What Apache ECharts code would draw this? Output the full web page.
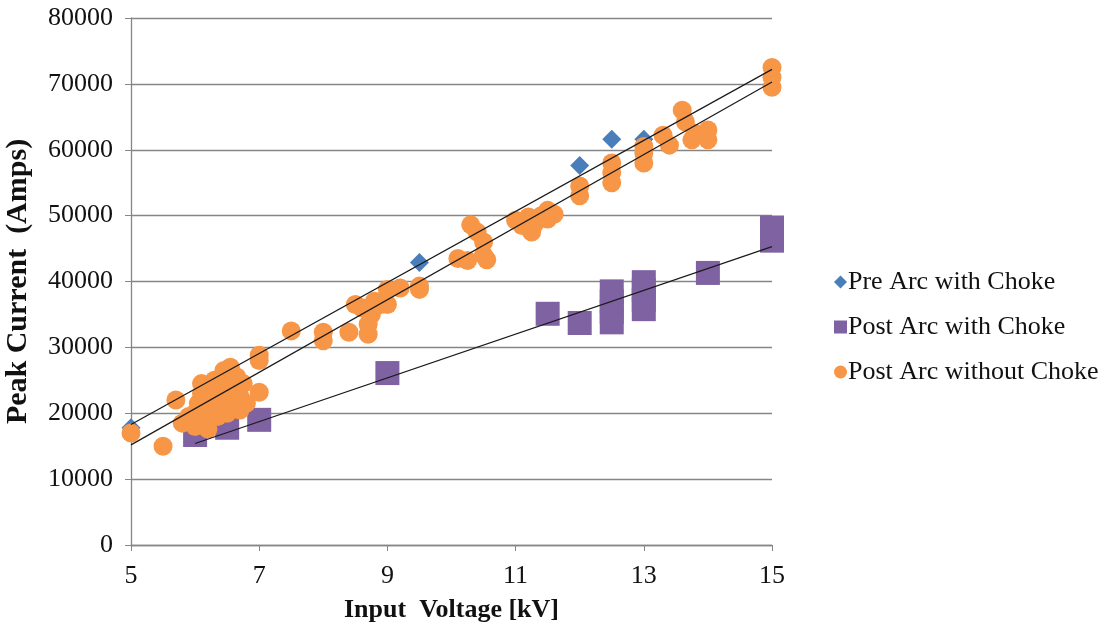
<!DOCTYPE html>
<html>
<head>
<meta charset="utf-8">
<script src="https://cdn.jsdelivr.net/npm/echarts@6/dist/echarts.min.js"></script>
<style>html,body{margin:0;padding:0;background:#fff}#c{width:1115px;height:630px}</style>
</head>
<body>
<div id="c"></div>
<script>
const seriesNames = ['Pre Arc with Choke', 'Post Arc with Choke', 'Post Arc without Choke'];
const xTicks = [5, 7, 9, 11, 13, 15];
const yTicks = [0, 10000, 20000, 30000, 40000, 50000, 60000, 70000, 80000];

const preArcChoke = [[5, 17800], [9.5, 42900], [12, 57600], [12.5, 61600], [13, 61600]];

const postArcChoke = [
  [6, 16700], [6.5, 17800], [7, 19000], [9, 26100], [11.5, 35100], [12, 33700],
  [12.5, 33800], [12.5, 35400], [12.5, 37000], [12.5, 38500],
  [13, 35800], [13, 37200], [13, 38700], [13, 39900],
  [14, 41300], [15, 46200], [15, 48200]
];

const postArcNoChoke = [
  [5.0, 17000], [5.5, 15000], [5.7, 22000], [5.8, 18500], [5.9, 19500], [6.0, 18000], [6.0, 20000],
  [6.05, 21500], [6.1, 23000], [6.1, 24500], [6.15, 19000], [6.2, 22000], [6.2, 17600], [6.25, 20500],
  [6.3, 23500], [6.3, 25000], [6.35, 19500], [6.4, 21500], [6.4, 24000], [6.45, 26500], [6.5, 20000],
  [6.5, 22500], [6.5, 25500], [6.55, 27000], [6.6, 21000], [6.6, 23500], [6.65, 25500], [6.7, 20500],
  [6.7, 22500], [6.75, 24500], [6.8, 21500], [7.0, 23200], [7.0, 28000], [7.0, 28800],
  [7.5, 32500], [8.0, 31000], [8.0, 32300], [8.4, 32300], [8.5, 36500], [8.6, 36000], [8.7, 32000],
  [8.7, 33500], [8.75, 35000], [8.8, 37000], [8.9, 36500], [9.0, 38800], [9.0, 36500], [9.2, 39000],
  [9.5, 38800], [9.5, 39300],
  [10.1, 43500], [10.25, 43200], [10.3, 48600], [10.4, 47500], [10.5, 46000], [10.5, 44000], [10.55, 43300],
  [11.0, 49300], [11.1, 48500], [11.2, 49800], [11.25, 47500], [11.3, 48800], [11.4, 50000], [11.5, 50800],
  [11.5, 49500], [11.6, 50200],
  [12.0, 53000], [12.0, 54500], [12.5, 55000], [12.5, 56500], [12.5, 58000], [13.0, 58000], [13.0, 59500],
  [13.0, 60500], [13.3, 62200], [13.4, 60700], [13.6, 66000], [13.65, 64200], [13.75, 61500], [13.8, 62500],
  [14.0, 63000], [14.0, 61500], [15.0, 69500], [15.0, 71000], [15.0, 72500]
];

const preArcTrend = [[5, 18300], [15, 72200]];
const postNoChokeTrend = [[5, 15200], [15, 70300]];
const postChokeTrend = [[6, 15400], [15, 45300]];

const chart = echarts.init(document.getElementById('c'), null, {renderer: 'canvas'});
const serif = '"Liberation Serif", "Times New Roman", serif';
const gray = '#868686';
const trendStyle = {color: '#1a1a1a', width: 1.2};

chart.setOption({
  animation: false,
  backgroundColor: '#fff',
  textStyle: {fontFamily: serif},
  grid: {left: 131, right: 343, top: 18, bottom: 85, containLabel: false, outerBoundsMode: 'none'},
  legend: {
    data: [
      {name: seriesNames[0], icon: 'diamond'},
      {name: seriesNames[1], icon: 'rect'},
      {name: seriesNames[2], icon: 'circle'}
    ],
    orient: 'vertical',
    left: 829, top: 264,
    itemWidth: 13, itemHeight: 13, itemGap: 19,
    textStyle: {fontFamily: serif, fontSize: 26, color: '#111', padding: [0, 0, 0, -4]}
  },
  xAxis: {
    type: 'value', min: 5, max: 15, interval: 1,
    name: 'Input  Voltage [kV]', nameLocation: 'middle', nameGap: 52,
    nameTextStyle: {fontFamily: serif, fontSize: 26, fontWeight: 'bold', color: '#111'},
    axisLine: {show: true, lineStyle: {color: gray, width: 1.3}},
    axisTick: {show: true, length: 6, lineStyle: {color: gray}, customValues: xTicks},
    axisLabel: {fontFamily: serif, fontSize: 26, color: '#111', margin: 18, customValues: xTicks},
    splitLine: {show: false}
  },
  yAxis: {
    type: 'value', min: 0, max: 80000, interval: 10000,
    name: 'Peak Current  (Amps)', nameLocation: 'middle', nameGap: 98, nameRotate: 90,
    nameTextStyle: {fontFamily: serif, fontSize: 30, fontWeight: 'bold', color: '#111'},
    axisLine: {show: true, lineStyle: {color: gray, width: 1.3}},
    axisTick: {show: true, length: 6, lineStyle: {color: gray}, customValues: yTicks},
    axisLabel: {fontFamily: serif, fontSize: 26, color: '#111', margin: 18, customValues: yTicks,
      formatter: v => String(v)},
    splitLine: {show: true, lineStyle: {color: gray, width: 1.3}}
  },
  series: [
    {name: seriesNames[0], type: 'scatter', data: preArcChoke, symbol: 'diamond', symbolSize: 19,
     itemStyle: {color: '#4A7EBB', opacity: 1}, z: 2},
    {name: seriesNames[1], type: 'scatter', data: postArcChoke, symbol: 'rect', symbolSize: 24,
     itemStyle: {color: '#7E62A1', opacity: 1}, z: 3},
    {name: seriesNames[2], type: 'scatter', data: postArcNoChoke, symbol: 'circle', symbolSize: 19,
     itemStyle: {color: '#F79646', opacity: 1}, z: 4},
    {type: 'line', data: preArcTrend, symbol: 'none', lineStyle: trendStyle, z: 5, silent: true},
    {type: 'line', data: postNoChokeTrend, symbol: 'none', lineStyle: trendStyle, z: 5, silent: true},
    {type: 'line', data: postChokeTrend, symbol: 'none', lineStyle: trendStyle, z: 5, silent: true}
  ]
});
</script>
</body>
</html>
